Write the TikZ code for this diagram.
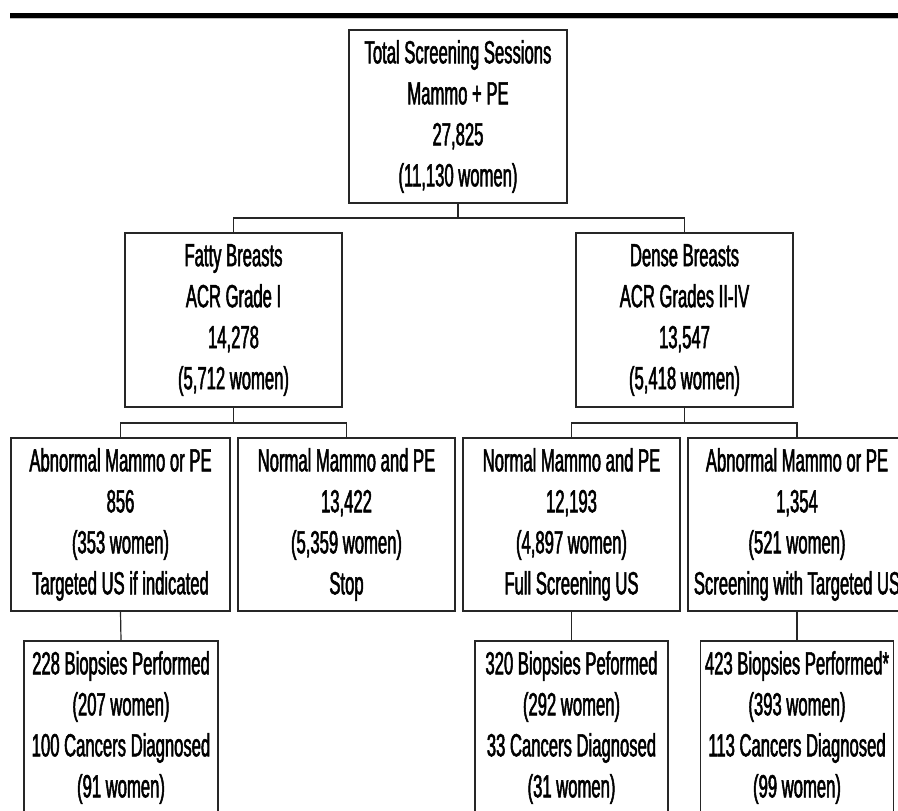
\documentclass[tikz,border=0pt]{standalone}
\usepackage{fontspec}
\setmainfont{Liberation Sans}[FakeStretch=0.52,FakeBold=1.6]
\begin{document}
\begin{tikzpicture}[x=0.75pt,y=-0.75pt,
  box/.style={draw=black!85, line width=0.9pt, inner sep=0pt, align=center,
    minimum height={173*0.75pt},
    font=\fontsize{24}{30.75}\selectfont},
  conn/.style={draw=black!85, line width=0.9pt}]
\useasboundingbox (0,0) rectangle (898,810);
\clip (0,0) rectangle (898,810);
\fill[black] (10,13) rectangle (898,18);
\fill[black!25] (10,18) rectangle (898,19);

% level 1
\node[box, minimum width={218*0.75pt}] (top) at (458,116.5)
  {Total Screening Sessions\\Mammo + PE\\27,825\\(11,130 women)};

% level 2
\node[box, minimum width={217*0.75pt}, minimum height={174*0.75pt}] (fatty) at (233.5,320)
  {Fatty Breasts\\ACR Grade I\\14,278\\(5,712 women)};
\node[box, minimum width={217*0.75pt}, minimum height={174*0.75pt}] (dense) at (684.5,320)
  {Dense Breasts\\ACR Grades II-IV\\13,547\\(5,418 women)};

% level 3
\node[box, minimum width={219*0.75pt}] (fab) at (120.5,524.5)
  {Abnormal Mammo or PE\\856\\(353 women)\\Targeted US if indicated};
\node[box, minimum width={217*0.75pt}] (fno) at (346.5,524.5)
  {Normal Mammo and PE\\13,422\\(5,359 women)\\Stop};
\node[box, minimum width={217*0.75pt}] (dno) at (571.5,524.5)
  {Normal Mammo and PE\\12,193\\(4,897 women)\\Full Screening US};
\node[box, minimum width={218*0.75pt}] (dab) at (797,524.5)
  {Abnormal Mammo or PE\\1,354\\(521 women)\\Screening with Targeted US};

% level 4
\node[box, minimum width={194*0.75pt}] (fbx) at (121,727.5)
  {228 Biopsies Performed\\(207 women)\\100 Cancers Diagnosed\\(91 women)};
\node[box, minimum width={193*0.75pt}] (dnbx) at (571.5,727.5)
  {320 Biopsies Peformed\\(292 women)\\33 Cancers Diagnosed\\(31 women)};
\node[box, minimum width={193*0.75pt}] (dabx) at (797,727.5)
  {423 Biopsies Performed*\\(393 women)\\113 Cancers Diagnosed\\(99 women)};

% junction levels
\coordinate (j1) at (0,218);
\coordinate (j2) at (0,423);

% connectors
\draw[conn] (top.south) -- (top.south |- j1) -| (fatty.north);
\draw[conn] (top.south |- j1) -| (dense.north);
\draw[conn] (fatty.south) -- (fatty.south |- j2) -| (fab.north);
\draw[conn] (fatty.south |- j2) -| (fno.north);
\draw[conn] (dense.south) -- (dense.south |- j2) -| (dno.north);
\draw[conn] (dense.south |- j2) -| (dab.north);
\draw[conn] (fab.south) -- (fbx.north);
\draw[conn] (dno.south) -- (dnbx.north);
\draw[conn] (dab.south) -- (dabx.north);
\end{tikzpicture}
\end{document}
